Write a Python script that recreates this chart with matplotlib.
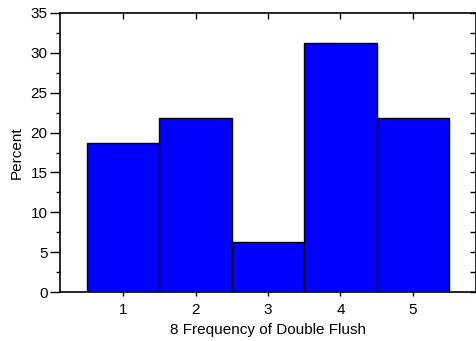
import matplotlib
matplotlib.use("Agg")
import matplotlib.pyplot as plt
from matplotlib.ticker import MultipleLocator

plt.rcParams['font.family'] = ['Liberation Sans', 'DejaVu Sans']

categories = [1, 2, 3, 4, 5]
percent = [18.75, 21.875, 6.25, 31.25, 21.875]

fig = plt.figure(figsize=(4.77, 3.41), dpi=100)
ax = fig.add_axes([60 / 477, 49 / 341, 416 / 477, 279 / 341])

ax.bar(categories, percent, width=1.0, color='#0000ff', edgecolor='black',
       linewidth=1.0, zorder=2)

ax.set_xlim(0.13, 5.87)
ax.set_ylim(0, 35)
ax.set_xticks(categories)
ax.yaxis.set_major_locator(MultipleLocator(5))
ax.yaxis.set_minor_locator(MultipleLocator(2.5))

for s in ax.spines.values():
    s.set_linewidth(1.2)
    s.set_zorder(3)

ax.tick_params(axis='y', which='major', direction='out', length=7, width=1,
               labelsize=11, pad=2, right=True)
ax.tick_params(axis='y', which='minor', direction='out', length=3, width=1,
               right=True)
ax.tick_params(axis='x', which='major', direction='out', length=3, width=1,
               labelsize=11, pad=5, top=True)
# ticks on the opposite spines point inward
for t in ax.yaxis.get_major_ticks() + ax.yaxis.get_minor_ticks():
    t.tick2line.set_marker(matplotlib.lines.TICKLEFT)
    t.tick2line.set_markersize(4)
for t in ax.xaxis.get_major_ticks():
    t.tick2line.set_marker(matplotlib.lines.TICKDOWN)
    t.tick2line.set_markersize(4)

ax.set_xlabel('8 Frequency of Double Flush', fontsize=11, labelpad=4)
ax.set_ylabel('Percent', fontsize=11, labelpad=5)

fig.savefig('out.png', dpi=100)
